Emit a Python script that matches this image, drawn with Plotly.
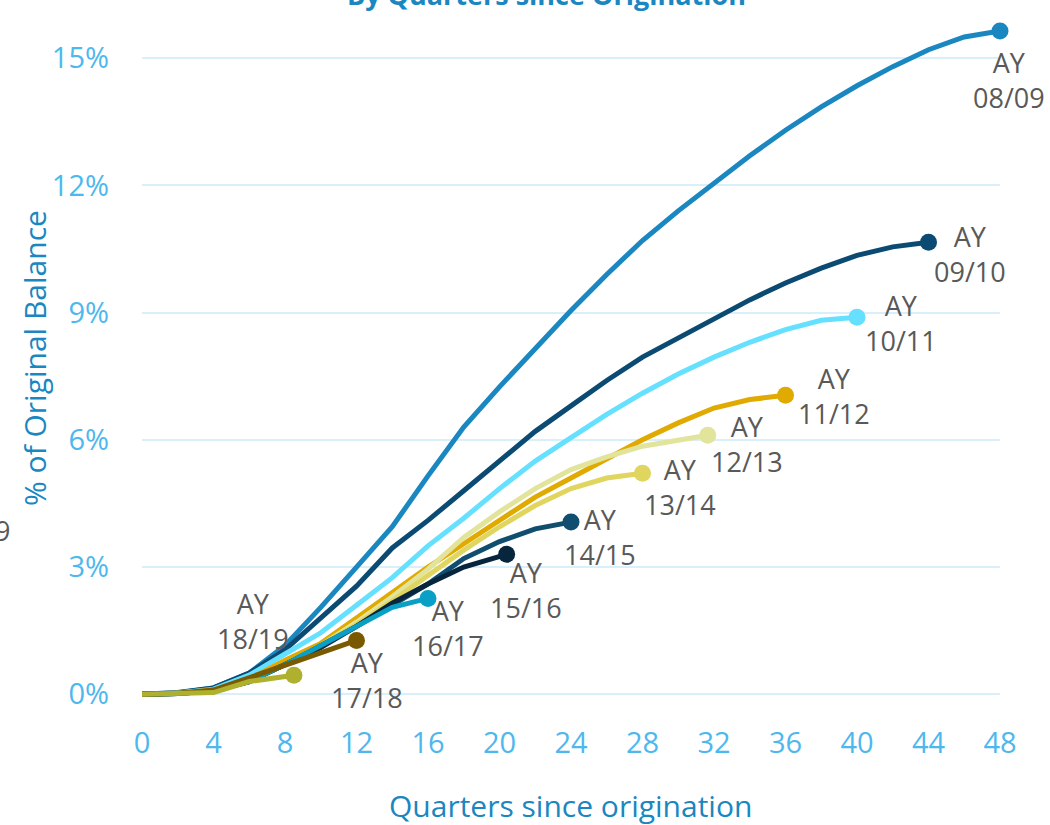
import plotly.graph_objects as go

# Cumulative losses (% of original balance) by quarters since origination, per accident year
vintages = ["08/09", "09/10", "10/11", "11/12", "12/13", "13/14",
            "14/15", "15/16", "16/17", "17/18", "18/19"]

q_0809 = [0, 2, 4, 6, 8, 10, 12, 14, 16, 18, 20, 22, 24, 26, 28, 30, 32, 34, 36, 38, 40, 42, 44, 46, 48]
v_0809 = [0, 0.03, 0.15, 0.5, 1.15, 2.05, 3.0, 3.95, 5.15, 6.3, 7.25, 8.15, 9.05, 9.9, 10.7, 11.4,
          12.05, 12.7, 13.3, 13.85, 14.35, 14.8, 15.2, 15.5, 15.64]

q_0910 = [0, 2, 4, 6, 8, 10, 12, 14, 16, 18, 20, 22, 24, 26, 28, 30, 32, 34, 36, 38, 40, 42, 44]
v_0910 = [0, 0.04, 0.15, 0.5, 1.05, 1.8, 2.55, 3.45, 4.1, 4.8, 5.5, 6.2, 6.8, 7.4, 7.95, 8.4,
          8.85, 9.3, 9.7, 10.05, 10.35, 10.55, 10.66]

q_1011 = [0, 2, 4, 6, 8, 10, 12, 14, 16, 18, 20, 22, 24, 26, 28, 30, 32, 34, 36, 38, 40]
v_1011 = [0, 0.03, 0.12, 0.45, 0.95, 1.45, 2.1, 2.75, 3.5, 4.15, 4.85, 5.5, 6.05, 6.6, 7.1, 7.55,
          7.95, 8.3, 8.6, 8.82, 8.89]

q_1112 = [0, 2, 4, 6, 8, 10, 12, 14, 16, 18, 20, 22, 24, 26, 28, 30, 32, 34, 36]
v_1112 = [0, 0.03, 0.1, 0.35, 0.8, 1.2, 1.8, 2.4, 3.0, 3.55, 4.1, 4.65, 5.1, 5.55, 6.0, 6.4, 6.75, 6.95, 7.05]

q_1213 = [0, 2, 4, 6, 8, 10, 12, 14, 16, 18, 20, 22, 24, 26, 28, 30, 31.65]
v_1213 = [0, 0.02, 0.08, 0.3, 0.7, 1.15, 1.7, 2.3, 2.95, 3.7, 4.3, 4.85, 5.3, 5.6, 5.85, 6.0, 6.11]

q_1314 = [0, 2, 4, 6, 8, 10, 12, 14, 16, 18, 20, 22, 24, 26, 28]
v_1314 = [0, 0.02, 0.08, 0.3, 0.7, 1.15, 1.65, 2.2, 2.8, 3.4, 3.95, 4.45, 4.85, 5.1, 5.21]

q_1415 = [0, 2, 4, 6, 8, 10, 12, 14, 16, 18, 20, 22, 24]
v_1415 = [0, 0.02, 0.08, 0.3, 0.7, 1.15, 1.6, 2.1, 2.6, 3.2, 3.6, 3.9, 4.06]

q_1516 = [0, 2, 4, 6, 8, 10, 12, 14, 16, 18, 20.4]
v_1516 = [0, 0.02, 0.08, 0.3, 0.7, 1.1, 1.6, 2.15, 2.6, 3.0, 3.3]

q_1617 = [0, 2, 4, 6, 8, 10, 12, 14, 16]
v_1617 = [0, 0.02, 0.08, 0.3, 0.7, 1.15, 1.6, 2.05, 2.26]

q_1718 = [0, 2, 4, 6, 8, 10, 12]
v_1718 = [0, 0.02, 0.1, 0.4, 0.7, 1.0, 1.27]

q_1819 = [0, 2, 4, 6, 8.5]
v_1819 = [0, 0.01, 0.04, 0.3, 0.45]

quarters = [q_0809, q_0910, q_1011, q_1112, q_1213, q_1314, q_1415, q_1516, q_1617, q_1718, q_1819]
values = [v_0809, v_0910, v_1011, v_1112, v_1213, v_1314, v_1415, v_1516, v_1617, v_1718, v_1819]

colors = ["#1a87c0", "#0b4a72", "#66e0ff", "#e0aa00", "#e3e49c", "#e0d55e",
          "#114d6e", "#07263d", "#0aa0c6", "#7a5a00", "#aeb02e"]

# label offsets in pixels relative to each end point (dx right, dy up)
label_dx = [9, 41, 44, 48, 39, 37, 29, 19, 20, 10, -41]
label_dy = [-49, -12, -6, -1, -9, -14, -15, -36, -30, -40, 54]

x_ticks = list(range(0, 49, 4))
y_ticks = [0, 3, 6, 9, 12, 15]
y_tick_text = ["0%", "3%", "6%", "9%", "12%", "15%"]

FONT = "Open Sans"
TICK_BLUE = "#4db8ee"
TITLE_BLUE = "#1a87c0"
LABEL_GREY = "#595959"

W, H = 1050, 825
ML, MR, MT, MB = 142, 50, 20, 118
plot_w, plot_h = W - ML - MR, H - MT - MB


def px_to_paper(px, py):
    return (px - ML) / plot_w, 1 - (py - MT) / plot_h


fig = go.Figure()
for name, qs, vs, col in zip(vintages, quarters, values, colors):
    fig.add_trace(go.Scatter(
        x=qs, y=vs, mode="lines", name="AY " + name,
        line=dict(color=col, width=5), cliponaxis=False, hoverinfo="skip",
    ))
    fig.add_trace(go.Scatter(
        x=[qs[-1]], y=[vs[-1]], mode="markers",
        marker=dict(color=col, size=17), cliponaxis=False, hoverinfo="skip",
    ))

annotations = []
for name, qs, vs, dx, dy in zip(vintages, quarters, values, label_dx, label_dy):
    annotations.append(dict(
        x=qs[-1], y=vs[-1], xref="x", yref="y", text="AY<br>" + name,
        showarrow=False, xshift=dx, yshift=dy, align="center",
        font=dict(family=FONT, size=27, color=LABEL_GREY),
    ))

# chart heading, mostly above the top edge
hx, hy = px_to_paper(546, 15)
annotations.append(dict(
    x=hx, y=hy, xref="paper", yref="paper", text="<b>By Quarters since Origination</b>",
    showarrow=False, xanchor="center", yanchor="bottom",
    font=dict(family=FONT, size=27, color=TITLE_BLUE),
))
# stray label at the left edge
sx, sy = px_to_paper(2, 530)
annotations.append(dict(
    x=sx, y=sy, xref="paper", yref="paper", text="9",
    showarrow=False, xanchor="center", yanchor="middle",
    font=dict(family=FONT, size=27, color=LABEL_GREY),
))
# axis titles
tx, ty = px_to_paper(34, 358)
annotations.append(dict(
    x=tx, y=ty, xref="paper", yref="paper", text="% of Original Balance",
    textangle=-90, showarrow=False, xanchor="center", yanchor="middle",
    font=dict(family=FONT, size=30, color=TITLE_BLUE),
))
tx, ty = px_to_paper(570, 805)
annotations.append(dict(
    x=tx, y=ty, xref="paper", yref="paper", text="Quarters since origination",
    showarrow=False, xanchor="center", yanchor="middle",
    font=dict(family=FONT, size=30, color=TITLE_BLUE),
))

fig.update_layout(
    width=W, height=H,
    margin=dict(l=ML, r=MR, t=MT, b=MB, autoexpand=False),
    paper_bgcolor="white", plot_bgcolor="white",
    showlegend=False,
    font=dict(family=FONT),
    annotations=annotations,
)

fig.update_xaxes(
    range=[0, 48], tickmode="array", tickvals=x_ticks,
    tickfont=dict(family=FONT, size=29, color=TICK_BLUE),
    showgrid=False, zeroline=False, showline=False, ticks="",
    ticklabelstandoff=16, automargin=False,
)
fig.update_yaxes(
    range=[-0.3, 15.9], tickmode="array", tickvals=y_ticks, ticktext=y_tick_text,
    tickfont=dict(family=FONT, size=29, color=TICK_BLUE),
    showgrid=True, gridcolor="#d9eff9", gridwidth=2, zeroline=False, showline=False, ticks="",
    ticklabelstandoff=32, automargin=False,
)

fig.write_html("out.html")
